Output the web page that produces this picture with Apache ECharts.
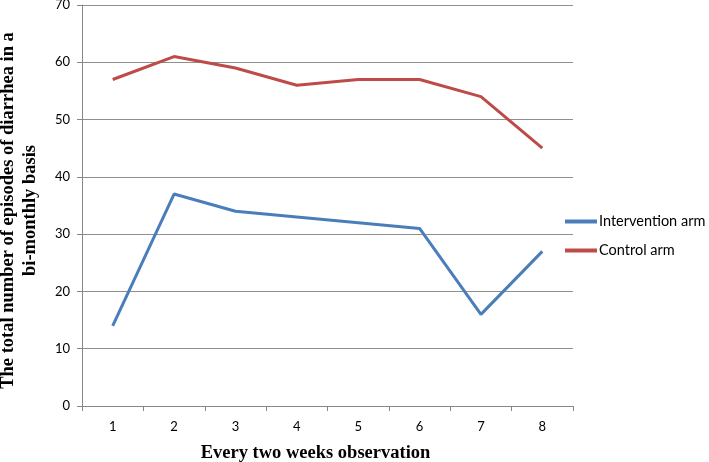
<!DOCTYPE html>
<html><head><meta charset="utf-8">
<script src="https://cdn.jsdelivr.net/npm/echarts@6/dist/echarts.min.js"></script>
<style>html,body{margin:0;padding:0;background:#fff}#c{width:709px;height:462px}</style>
</head><body><div id="c"></div>
<script>
const categories = ['1','2','3','4','5','6','7','8'];
const interventionArm = [14, 37, 34, 33, 32, 31, 16, 27];
const controlArm = [57, 61, 59, 56, 57, 57, 54, 45];
const yTicks = [0,10,20,30,40,50,60,70];

const chart = echarts.init(document.getElementById('c'));
const tickFont = {fontFamily: 'Lato', fontSize: 13, color: '#000'};
chart.setOption({
  animation: false,
  grid: {left: 82, right: 136, top: 5, bottom: 56, containLabel: false, outerBoundsMode: 'none'},
  xAxis: {
    type: 'category', data: categories, boundaryGap: true,
    name: 'Every two weeks observation', nameLocation: 'middle', nameGap: 38,
    nameTextStyle: {fontFamily: 'Liberation Serif', fontWeight: 'bold', fontSize: 18.5, color: '#000', padding: [0, 24, 0, 0]},
    axisLine: {lineStyle: {color: '#878787', width: 1}},
    axisTick: {show: true, length: 5, alignWithLabel: false, lineStyle: {color: '#878787'}},
    axisLabel: Object.assign({margin: 14}, tickFont)
  },
  yAxis: {
    type: 'value', min: yTicks[0], max: yTicks[yTicks.length-1], interval: 10,
    name: 'The total number of episodes of diarrhea in a\nbi-monthly basis',
    nameLocation: 'middle', nameGap: 41, nameRotate: 90,
    nameTextStyle: {fontFamily: 'Liberation Serif', fontWeight: 'bold', fontSize: 18.5, color: '#000', lineHeight: 22, padding: [0, 10, 0, 0]},
    axisLine: {show: true, lineStyle: {color: '#878787', width: 1}},
    axisTick: {show: true, length: 5, lineStyle: {color: '#878787'}},
    axisLabel: Object.assign({margin: 12}, tickFont),
    splitLine: {show: true, lineStyle: {color: '#8f8f8f', width: 1}}
  },
  legend: {
    orient: 'vertical', left: 565, top: 214, padding: 0, itemGap: 14,
    itemWidth: 32, itemHeight: 4, icon: 'rect',
    textStyle: {fontFamily: 'Lato', fontSize: 14.5, color: '#000', padding: [0,0,0,-3]},
    data: ['Intervention arm', 'Control arm']
  },
  series: [
    {name: 'Intervention arm', type: 'line', data: interventionArm, symbol: 'none',
     lineStyle: {color: '#4a7ebb', width: 3}, itemStyle: {color: '#4a7ebb'}},
    {name: 'Control arm', type: 'line', data: controlArm, symbol: 'none',
     lineStyle: {color: '#be4b48', width: 3}, itemStyle: {color: '#be4b48'}}
  ]
});
</script></body></html>
